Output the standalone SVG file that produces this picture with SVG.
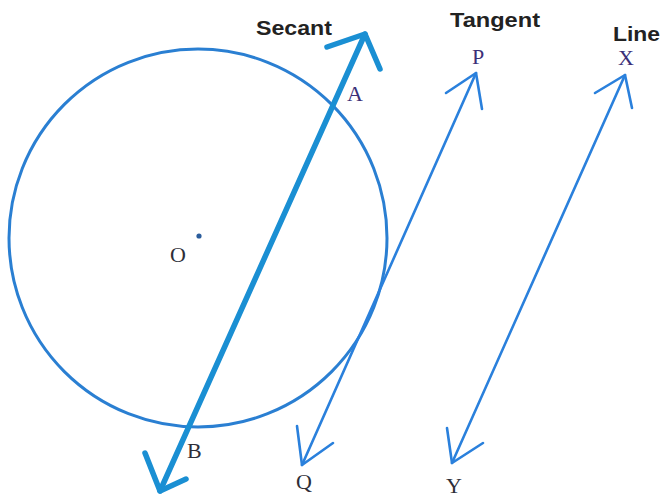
<svg xmlns="http://www.w3.org/2000/svg" width="663" height="502" viewBox="0 0 663 502">
<style>
.circ{fill:none;stroke:#2a7fd2;stroke-width:3}
.sec{fill:none;stroke:#1a8fd3;stroke-width:5.5;stroke-linecap:round;stroke-linejoin:round}
.thin{fill:none;stroke:#2a80dc;stroke-width:2.6;stroke-linecap:round;stroke-linejoin:round}
.hd{font-family:"Liberation Sans",Arial,sans-serif;font-weight:bold;font-size:21px;fill:#222}
.pt{font-family:"Liberation Serif","Times New Roman",serif;font-size:22px}
.pu{fill:#3b2f78}
.gr{fill:#2e2e38}
</style>
<rect width="663" height="502" fill="#fff"/>
<g id="circle">
<circle class="circ" cx="198" cy="238" r="189"/>
<circle cx="199" cy="236" r="2.6" fill="#2b5d9c"/>
<text class="pt gr" x="170" y="262" font-size="24">O</text>
</g>
<g id="connectors">
<g id="secant">
<line class="sec" x1="365" y1="34" x2="160" y2="491"/>
<polyline class="sec" points="327,47 365,34 380,69"/>
<polyline class="sec" points="145,453 160,491 186,479"/>
</g>
<g id="tangent">
<line class="thin" x1="476" y1="73" x2="302" y2="465"/>
<polyline class="thin" points="446,93 476,73 482,109"/>
<polyline class="thin" points="297,426 302,465 333,443"/>
</g>
<g id="line">
<line class="thin" x1="625" y1="75" x2="452" y2="463"/>
<polyline class="thin" points="595,93 625,75 632,108"/>
<polyline class="thin" points="447,428 452,463 483,443"/>
</g>
</g>
<g id="labels">
<text class="hd" x="256" y="35" textLength="76" lengthAdjust="spacingAndGlyphs">Secant</text>
<text class="hd" x="450" y="27" textLength="90" lengthAdjust="spacingAndGlyphs">Tangent</text>
<text class="hd" x="613" y="41" textLength="47" lengthAdjust="spacingAndGlyphs">Line</text>
<text class="pt pu" x="347" y="101" font-size="21">A</text>
<text class="pt gr" x="187" y="458">B</text>
<text class="pt gr" x="296" y="489">Q</text>
<text class="pt pu" x="472" y="64" font-size="21">P</text>
<text class="pt pu" x="618" y="65" font-size="21">X</text>
<text class="pt gr" x="446" y="493">Y</text>
</g>
</svg>
